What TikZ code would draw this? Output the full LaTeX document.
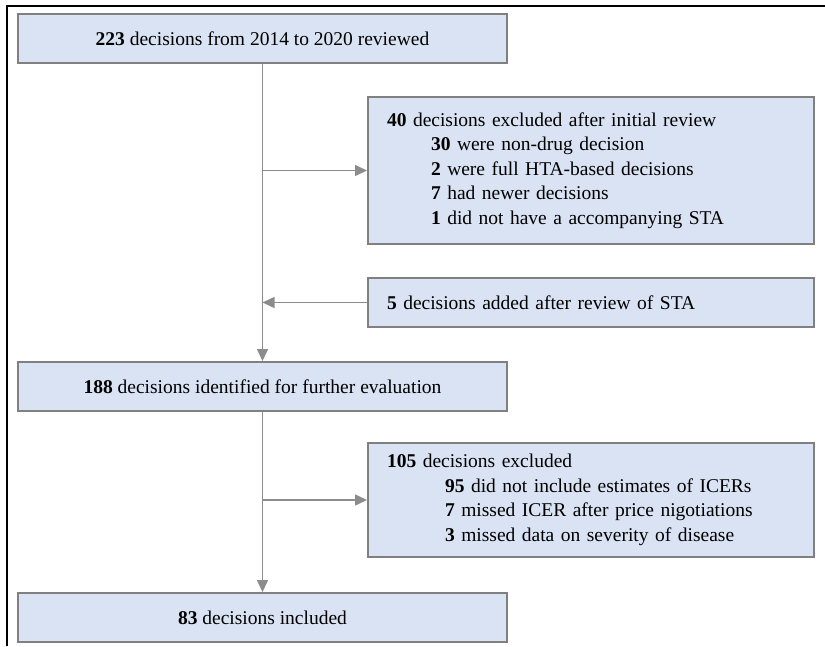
\documentclass[tikz,border=0pt]{standalone}
\usepackage{fontspec}
\setmainfont{Liberation Serif}
\usetikzlibrary{positioning,arrows.meta}
\definecolor{boxfill}{HTML}{DAE3F3}
\definecolor{boxline}{HTML}{808080}
\definecolor{arrline}{HTML}{8C8C8C}

\begin{document}
\begin{tikzpicture}[x=1pt, y=-1pt, every node/.style={font=\fontsize{19.5}{24.5}\selectfont},
  flowbox/.style={draw=boxline, line width=2pt, fill=boxfill, inner sep=0pt},
  mainbox/.style={flowbox, minimum width=489pt, minimum height=49pt},
  sidebox/.style={flowbox, text width=408pt, inner xsep=19pt, align=left},
  flowarrow/.style={draw=arrline, line width=1.5pt, -{Triangle[length=12pt,width=11pt]}}]
  \useasboundingbox (0,0) rectangle (825,646);
  % outer frame
  \draw[line width=2pt] (7,646) -- (7,6) -- (825,6);

  \node[mainbox] (reviewed) at (262.5,38.5) {\textbf{223} decisions from 2014 to 2020 reviewed};
  \node[sidebox, minimum height=147pt] (excl40) at (591,170.5) {\textbf{40} decisions excluded after initial review\\
    \hspace*{44pt}\textbf{30} were non-drug decision\\
    \hspace*{44pt}\textbf{2} were full HTA-based decisions\\
    \hspace*{44pt}\textbf{7} had newer decisions\\
    \hspace*{44pt}\textbf{1} did not have a accompanying STA};
  \node[sidebox, minimum height=49pt] (added) at (591,302.5) {\textbf{5} decisions added after review of STA};
  \node[mainbox] (further) at (262.5,386.5) {\textbf{188} decisions identified for further evaluation};
  \node[sidebox, minimum height=114pt] (excl105) at (591,500) {\textbf{105} decisions excluded\\
    \hspace*{58pt}\textbf{95} did not include estimates of ICERs\\
    \hspace*{58pt}\textbf{7} missed ICER after price nigotiations\\
    \hspace*{58pt}\textbf{3} missed data on severity of disease};
  \node[mainbox] (included) at (262.5,617.5) {\textbf{83} decisions included};

  % connectors
  \draw[flowarrow] (reviewed) -- (further);
  \draw[flowarrow] (reviewed.south |- excl40.west) -- (excl40.west);
  \draw[flowarrow] (added.west) -- (added.west -| reviewed.south);
  \draw[flowarrow] (further) -- (included);
  \draw[flowarrow] (further.south |- excl105.west) -- (excl105.west);
\end{tikzpicture}
\end{document}
